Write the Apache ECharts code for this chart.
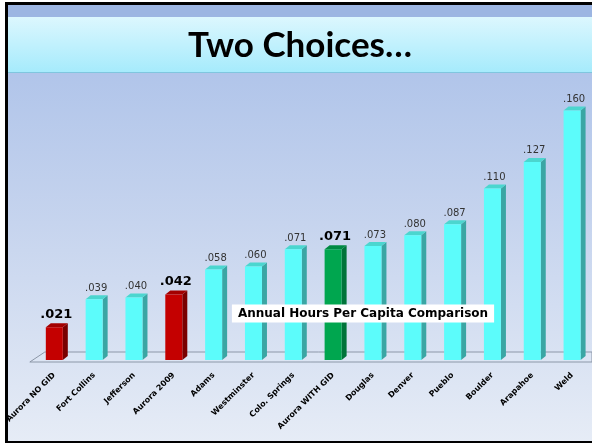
<!DOCTYPE html>
<html>
<head>
<meta charset="utf-8">
<script src="https://cdn.jsdelivr.net/npm/echarts@6/dist/echarts.min.js"></script>
<style>html,body{margin:0;padding:0;background:#fff;}#c{width:592px;height:445px;}</style>
</head>
<body>
<div id="c"></div>
<script>
const categories = ['Aurora NO GID','Fort Collins','Jefferson','Aurora 2009','Adams','Westminster','Colo. Springs','Aurora WITH GID','Douglas','Denver','Pueblo','Boulder','Arapahoe','Weld'];
const values = [0.021,0.039,0.040,0.042,0.058,0.060,0.071,0.071,0.073,0.080,0.087,0.110,0.127,0.160];
const barKinds = ['red','cyan','cyan','red','cyan','cyan','cyan','green','cyan','cyan','cyan','cyan','cyan','cyan'];
const titleText = 'Two Choices…';
const noteText = 'Annual Hours Per Capita Comparison';

const palette = {
  cyan:  {front:'#5cfcfb', side:'#3aa6a4', top:'#4bd6cf', bold:false},
  red:   {front:'#c40000', side:'#7a0000', top:'#a30000', bold:true},
  green: {front:'#00a64f', side:'#00743a', top:'#008a43', bold:true}
};
function fmt(v){ return v.toFixed(3).replace(/^0/, ''); }

const chart = echarts.init(document.getElementById('c'), null, {renderer:'canvas'});
const W = 592, H = 445;
chart.setOption({
  animation:false,
  grid:{left:34.4, width:562.2, top:48, bottom:85, containLabel:false},
  xAxis:{type:'category', data:categories, boundaryGap:true,
    axisLine:{show:false}, axisTick:{show:false},
    axisLabel:{rotate:45, interval:0, margin:14, color:'#000', fontFamily:'DejaVu Sans', fontWeight:'bold', fontSize:8}},
  yAxis:{type:'value', min:0, max:0.2, show:false, splitLine:{show:false}},
  graphic:[
    {type:'rect', shape:{x:0,y:0,width:W,height:H}, style:{fill:'#ffffff'}, z:-10, silent:true},
    {type:'rect', shape:{x:7,y:4,width:W-7,height:438}, style:{fill:new echarts.graphic.LinearGradient(0,0,0,1,[{offset:0,color:'#a7bee8'},{offset:0.5,color:'#c6d4ee'},{offset:1,color:'#e6ecf6'}])}, z:-9, silent:true},
    {type:'rect', shape:{x:7,y:4,width:W-7,height:13}, style:{fill:'#9cb5e2'}, z:-8, silent:true},
    {type:'rect', shape:{x:7,y:17,width:W-7,height:55}, style:{fill:new echarts.graphic.LinearGradient(0,0,0,1,[{offset:0,color:'#dcf7fe'},{offset:1,color:'#a6ebfc'}])}, z:-8, silent:true},
    {type:'rect', shape:{x:7,y:72,width:W-7,height:1}, style:{fill:'#7fc6df'}, z:-8, silent:true},
    {type:'rect', shape:{x:5,y:2,width:W-5,height:3}, style:{fill:'#000'}, z:-7, silent:true},
    {type:'rect', shape:{x:5,y:2,width:3,height:441}, style:{fill:'#000'}, z:-7, silent:true},
    {type:'rect', shape:{x:5,y:441,width:W-5,height:2}, style:{fill:'#000'}, z:-7, silent:true},
    {type:'text', x:300, y:46, style:{text:titleText, align:'center', verticalAlign:'middle', fontFamily:'Lato', fontWeight:'bold', fontSize:35, fill:'#000'}, z:-6, silent:true},
    {type:'text', x:363, y:313.5, style:{text:noteText, align:'center', verticalAlign:'middle', fontFamily:'DejaVu Sans', fontWeight:'bold', fontSize:12, fill:'#000', backgroundColor:'#ffffff', padding:[3,6,3,6]}, z:100, silent:true}
  ],
  series:[
    {type:'custom', z:1, data:[[0,0]], silent:true,
      renderItem:function(params, api){
        const b = api.coord([0,0]);
        const fx = b[0]-24.5, fy = b[1]+2, bx = fx+15, by = b[1]-8;
        const r = api.getWidth();
        return {type:'group', children:[
          {type:'polygon', shape:{points:[[fx,fy],[bx,by],[r,by],[r,fy]]}, style:{fill:'rgba(255,255,255,0.08)', stroke:'#8c97a8', lineWidth:1}}
        ]};
      }},
    {type:'custom', z:2, silent:true,
      data:values.map(function(v,i){return [i,v];}),
      renderItem:function(params, api){
        const i = api.value(0), v = api.value(1);
        const p = palette[barKinds[i]];
        const t = api.coord([i, v]);
        const b = api.coord([i, 0]);
        const w = 17, dx = 5, dy = -4;
        const x0 = t[0]-w/2;
        return {type:'group', children:[
          {type:'polygon', shape:{points:[[x0+w,t[1]],[x0+w+dx,t[1]+dy],[x0+w+dx,b[1]+dy],[x0+w,b[1]]]}, style:{fill:p.side}},
          {type:'polygon', shape:{points:[[x0,t[1]],[x0+dx,t[1]+dy],[x0+w+dx,t[1]+dy],[x0+w,t[1]]]}, style:{fill:p.top}},
          {type:'rect', shape:{x:x0,y:t[1],width:w,height:b[1]-t[1]}, style:{fill:p.front}},
          {type:'text', style:{text:fmt(v), x:x0+w/2+2, y:t[1]+dy-2, align:'center', verticalAlign:'bottom',
             fontFamily:'DejaVu Sans', fontWeight:p.bold?'bold':'normal', fontSize:p.bold?13:10, fill:p.bold?'#000':'#333'}}
        ]};
      }}
  ]
});
</script>
</body>
</html>
